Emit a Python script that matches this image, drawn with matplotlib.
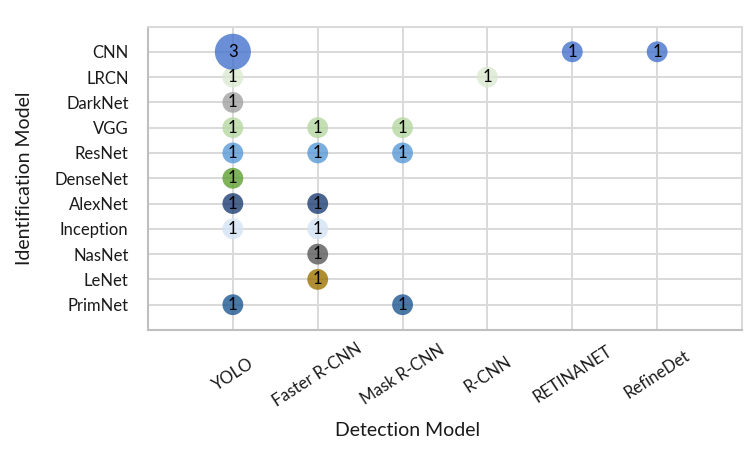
import matplotlib
matplotlib.use("Agg")
import matplotlib.pyplot as plt

detection_models = ["YOLO", "Faster R-CNN", "Mask R-CNN", "R-CNN", "RETINANET", "RefineDet"]
identification_models = ["PrimNet", "LeNet", "NasNet", "Inception", "AlexNet",
                         "DenseNet", "ResNet", "VGG", "DarkNet", "LRCN", "CNN"]

# counts[identification][detection]
cnn_counts = [3, 0, 0, 0, 1, 1]
lrcn_counts = [1, 0, 0, 1, 0, 0]
darknet_counts = [1, 0, 0, 0, 0, 0]
vgg_counts = [1, 1, 1, 0, 0, 0]
resnet_counts = [1, 1, 1, 0, 0, 0]
densenet_counts = [1, 0, 0, 0, 0, 0]
alexnet_counts = [1, 1, 0, 0, 0, 0]
inception_counts = [1, 1, 0, 0, 0, 0]
nasnet_counts = [0, 1, 0, 0, 0, 0]
lenet_counts = [0, 1, 0, 0, 0, 0]
primnet_counts = [1, 0, 1, 0, 0, 0]

series = {
    "PrimNet": (primnet_counts, "#1D5792"),
    "LeNet": (lenet_counts, "#9C7300"),
    "NasNet": (nasnet_counts, "#595959"),
    "Inception": (inception_counts, "#D4E3F4"),
    "AlexNet": (alexnet_counts, "#1D3E74"),
    "DenseNet": (densenet_counts, "#5FA031"),
    "ResNet": (resnet_counts, "#599AD8"),
    "VGG": (vgg_counts, "#B6D8A1"),
    "DarkNet": (darknet_counts, "#A2A2A2"),
    "LRCN": (lrcn_counts, "#DBEAD1"),
    "CNN": (cnn_counts, "#4573CC"),
}

FONT = "Lato"
plt.rcParams["font.family"] = [FONT, "DejaVu Sans"]

fig = plt.figure(figsize=(7.5, 4.5), dpi=100)
ax = fig.add_axes([148/750, 1-330/450, (742-148)/750, (330-26.5)/450])

grid_c = "#d9d9d9"
for gx in range(1, 8):
    ax.axvline(gx, color=grid_c, lw=1.4, zorder=0)
for gy in range(1, 13):
    ax.axhline(gy, color=grid_c, lw=1.4, zorder=0)

size_per_unit = 225
for yi, name in enumerate(identification_models, start=1):
    counts, col = series[name]
    xs, ys, vs = [], [], []
    for xi, v in enumerate(counts, start=1):
        if v > 0:
            xs.append(xi); ys.append(yi); vs.append(v)
    ax.scatter(xs, ys, s=[v * size_per_unit for v in vs], color=col, alpha=0.8,
               edgecolors="none", zorder=2)
    for x, y, v in zip(xs, ys, vs):
        ax.text(x, y, str(v), ha="center", va="center",
                fontsize=12, color="black", zorder=3)

ax.set_xlim(0, 7)
ax.set_ylim(0, 12)
ax.set_xticks(range(1, len(detection_models) + 1))
ax.set_xticklabels(detection_models, rotation=33, ha="center", va="center",
                   rotation_mode="anchor", fontsize=12, color="#1a1a1a")
ax.set_yticks(range(1, len(identification_models) + 1))
ax.set_yticklabels(identification_models, fontsize=12, color="#1a1a1a")
ax.tick_params(axis="x", length=0, pad=32)
ax.tick_params(axis="y", length=0, pad=14)

for sp in ["top", "right"]:
    ax.spines[sp].set_color(grid_c)
    ax.spines[sp].set_linewidth(1.4)
for sp in ["left", "bottom"]:
    ax.spines[sp].set_color("#bfbfbf")
    ax.spines[sp].set_linewidth(1.5)

fig.text(25/750, 1-178/450, "Identification Model", rotation=90, ha="center", va="center",
         fontsize=14, color="#1a1a1a")
fig.text(408/750, 1-430/450, "Detection Model", ha="center", va="center",
         fontsize=14, color="#1a1a1a")

fig.savefig("out.png", dpi=100)
